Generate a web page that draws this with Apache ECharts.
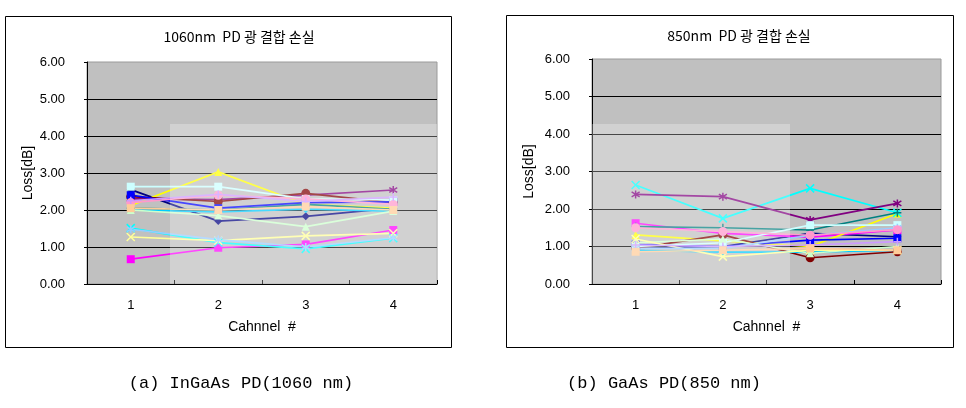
<!DOCTYPE html>
<html>
<head>
<meta charset="utf-8">
<script src="https://cdn.jsdelivr.net/npm/echarts@6/dist/echarts.min.js"></script>
<style>
html,body{margin:0;padding:0;background:#fff;}
#chart{width:966px;height:408px;}
</style>
</head>
<body>
<div id="chart"></div>
<script>
// ---------- data ----------
const categories = ['1', '2', '3', '4'];
const yTickValues = [0, 1, 2, 3, 4, 5, 6];

const leftTitle = '1060nm  PD 광 결합 손실';
const rightTitle = '850nm  PD 광 결합 손실';
const xAxisTitle = 'Cahnnel  #';
const yAxisTitle = 'Loss[dB]';
const leftCaption = '(a) InGaAs PD(1060 nm)';
const rightCaption = '(b) GaAs PD(850 nm)';

// InGaAs PD (1060 nm) — loss per channel for each device
const ingaas01 = [2.55, 1.70, 1.83, 2.05];
const ingaas02 = [0.67, 0.98, 1.07, 1.46];
const ingaas03 = [2.12, 3.03, 2.15, 2.05];
const ingaas04 = [1.51, 1.12, 0.95, 1.24];
const ingaas05 = [2.30, 2.28, 2.40, 2.54];
const ingaas06 = [2.36, 2.23, 2.45, 2.20];
const ingaas07 = [2.05, 2.00, 2.15, 2.02];
const ingaas08 = [2.40, 2.05, 2.20, 2.22];
const ingaas09 = [2.00, 1.95, 2.02, 1.97];
const ingaas10 = [2.63, 2.63, 2.30, 2.27];
const ingaas11 = [2.00, 1.85, 1.55, 1.97];
const ingaas12 = [1.27, 1.17, 1.30, 1.37];
const ingaas13 = [1.48, 1.20, 1.00, 1.25];
const ingaas14 = [2.20, 2.40, 2.30, 2.15];
const ingaas15 = [2.25, 2.42, 2.23, 2.35];
const ingaas16 = [2.05, 2.00, 2.09, 2.00];

// GaAs PD (850 nm) — loss per channel for each device
const gaas01 = [0.95, 1.00, 1.35, 1.26];
const gaas02 = [1.62, 1.35, 1.25, 1.44];
const gaas03 = [1.31, 1.15, 1.00, 1.88];
const gaas04 = [2.64, 1.75, 2.55, 1.90];
const gaas05 = [2.39, 2.33, 1.71, 2.15];
const gaas06 = [0.95, 1.31, 0.70, 0.86];
const gaas07 = [1.53, 1.50, 1.44, 1.90];
const gaas08 = [1.05, 1.00, 1.17, 1.22];
const gaas09 = [0.90, 0.85, 0.85, 0.90];
const gaas10 = [1.00, 1.10, 1.57, 1.57];
const gaas11 = [1.10, 1.20, 0.82, 1.00];
const gaas12 = [1.20, 0.73, 0.90, 0.90];
const gaas13 = [0.95, 0.95, 1.30, 1.50];
const gaas14 = [1.50, 1.40, 1.30, 1.45];
const gaas15 = [1.04, 1.00, 1.04, 1.13];
const gaas16 = [0.86, 0.90, 0.95, 0.90];

const ingaasSeries = [ingaas01, ingaas02, ingaas03, ingaas04, ingaas05, ingaas06, ingaas07, ingaas08,
  ingaas09, ingaas10, ingaas11, ingaas12, ingaas13, ingaas14, ingaas15, ingaas16];
const gaasSeries = [gaas01, gaas02, gaas03, gaas04, gaas05, gaas06, gaas07, gaas08,
  gaas09, gaas10, gaas11, gaas12, gaas13, gaas14, gaas15, gaas16];

// ---------- styles ----------
const seriesColors = ['#000080', '#FF00FF', '#FFFF00', '#00FFFF', '#800080', '#800000', '#008080', '#0000FF',
  '#00CCFF', '#CCFFFF', '#CCFFCC', '#FFFF99', '#99CCFF', '#FF99CC', '#CC99FF', '#FFCC99'];
const SYM_X = 'path://M0,0L10,10M10,0L0,10';
const SYM_STAR = 'path://M5,0L5,10M0,2L10,8M0,8L10,2';
const SYM_PLUS = 'path://M5,0L5,10M0,5L10,5';
const SYM_DASH = 'path://M0,4L10,4L10,6L0,6Z';
const markerCycle = ['diamond', 'rect', 'triangle', SYM_X, SYM_STAR, 'circle', SYM_PLUS, SYM_DASH];
const strokeOnly = [false, false, false, true, true, false, true, false];

function buildSeries(list, gridIdx, prefix) {
  return list.map(function (vals, i) {
    const c = seriesColors[i % seriesColors.length];
    const m = i % markerCycle.length;
    return {
      name: prefix + (i + 1),
      type: 'line',
      xAxisIndex: gridIdx,
      yAxisIndex: gridIdx,
      data: vals,
      symbol: markerCycle[m],
      symbolSize: m === 5 ? 9 : 8,
      showAllSymbol: true,
      lineStyle: { color: c, width: 1.7 },
      itemStyle: { color: c, borderColor: c, borderWidth: strokeOnly[m] ? 1.5 : 0 },
      emphasis: { disabled: true },
      animation: false
    };
  });
}

const labelFont = 'Liberation Sans, Arial, sans-serif';

function xAxisCfg(gridIdx) {
  return {
    type: 'category',
    gridIndex: gridIdx,
    data: categories,
    boundaryGap: true,
    axisLine: { show: true, lineStyle: { color: '#000', width: 1 } },
    axisTick: { show: true, inside: true, length: 4, lineStyle: { color: '#000' } },
    axisLabel: { color: '#000', fontSize: 13, fontFamily: labelFont, margin: 15 },
    name: xAxisTitle,
    nameLocation: 'middle',
    nameGap: 36,
    nameTextStyle: { color: '#000', fontSize: 14, fontFamily: labelFont },
    splitLine: { show: false }
  };
}

function yAxisCfg(gridIdx, gap) {
  return {
    type: 'value',
    gridIndex: gridIdx,
    min: yTickValues[0],
    max: yTickValues[yTickValues.length - 1],
    interval: 1,
    axisLine: { show: true, lineStyle: { color: '#000', width: 1 } },
    axisTick: { show: true, length: 3, lineStyle: { color: '#000' } },
    axisLabel: {
      color: '#000', fontSize: 13, fontFamily: labelFont, margin: 22,
      formatter: function (v) { return v.toFixed(2); }
    },
    splitLine: { show: true, showMinLine: false, showMaxLine: false, lineStyle: { color: '#000', width: 1 } },
    name: yAxisTitle,
    nameLocation: 'middle',
    nameGap: gap,
    nameRotate: 90,
    nameTextStyle: { color: '#000', fontSize: 14, fontFamily: labelFont }
  };
}

const grids = [
  { left: 87, top: 62, width: 350, height: 222 },
  { left: 592, top: 59, width: 349, height: 225 }
];

const chart = echarts.init(document.getElementById('chart'), null, { renderer: 'canvas' });

const option = {
  backgroundColor: '#ffffff',
  animation: false,
  grid: grids.map(function (g) {
    return Object.assign({ show: true, backgroundColor: '#c0c0c0', borderColor: '#9a9a9a', borderWidth: 1, containLabel: false }, g);
  }),
  xAxis: [xAxisCfg(0), xAxisCfg(1)],
  yAxis: [yAxisCfg(0, 52), yAxisCfg(1, 56)],
  series: buildSeries(ingaasSeries, 0, 'InGaAs ').concat(buildSeries(gaasSeries, 1, 'GaAs ')),
  graphic: [
    // chart frames
    { type: 'rect', z: -10, shape: { x: 5.5, y: 16.5, width: 446, height: 331 },
      style: { fill: '#fff', stroke: '#000', lineWidth: 1 } },
    { type: 'rect', z: -10, shape: { x: 506.5, y: 15.5, width: 447, height: 332 },
      style: { fill: '#fff', stroke: '#000', lineWidth: 1 } },
    // watermark light panels over plot areas
    { type: 'rect', z: 100, silent: true, shape: { x: 170, y: 124, width: 267, height: 160 },
      style: { fill: 'rgba(255,255,255,0.28)' } },
    { type: 'rect', z: 100, silent: true, shape: { x: 592, y: 124, width: 198, height: 160 },
      style: { fill: 'rgba(255,255,255,0.28)' } },
    // chart titles
    { type: 'text', z: 110, x: 239, y: 37,
      style: { text: leftTitle, align: 'center', verticalAlign: 'middle', fill: '#000',
        font: '14px "Noto Sans CJK KR", sans-serif' } },
    { type: 'text', z: 110, x: 739, y: 36,
      style: { text: rightTitle, align: 'center', verticalAlign: 'middle', fill: '#000',
        font: '14px "Noto Sans CJK KR", sans-serif' } },
    // captions
    { type: 'text', z: 110, x: 241, y: 383,
      style: { text: leftCaption, align: 'center', verticalAlign: 'middle', fill: '#000',
        font: '17px "Liberation Mono", monospace' } },
    { type: 'text', z: 110, x: 664, y: 383,
      style: { text: rightCaption, align: 'center', verticalAlign: 'middle', fill: '#000',
        font: '17px "Liberation Mono", monospace' } }
  ]
};

chart.setOption(option);
</script>
</body>
</html>
